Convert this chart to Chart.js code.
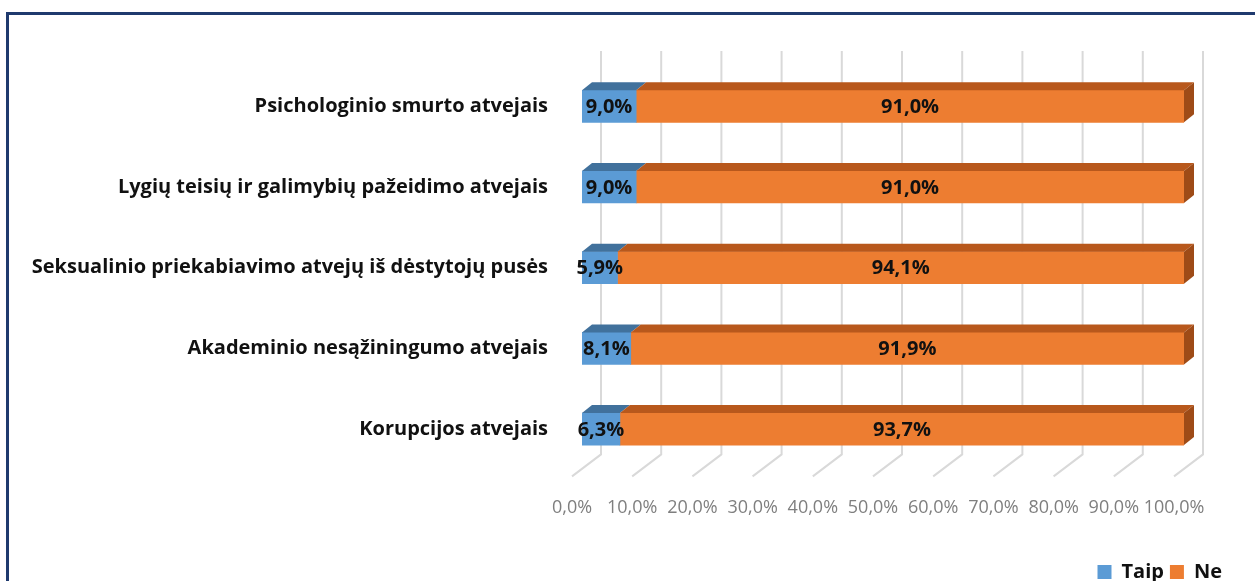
<!DOCTYPE html>
<html>
<head>
<meta charset="utf-8">
<script src="https://cdn.jsdelivr.net/npm/chart.js@4"></script>
<style>
  html, body { margin: 0; padding: 0; background: #fff; overflow: hidden; }
  #wrap { position: relative; width: 1255px; height: 581px; overflow: hidden; }
  #frame { position: absolute; left: 6px; top: 12px; width: 1400px; height: 700px; border: 3px solid #1f3a6e; box-sizing: border-box; }
  canvas { position: absolute; left: 0; top: 0; }
</style>
</head>
<body>
<div id="wrap">
  <div id="frame"></div>
  <canvas id="chart" width="1255" height="592"></canvas>
</div>
<script>
const categories = [
    'Psichologinio smurto atvejais',
    'Lygių teisių ir galimybių pažeidimo atvejais',
    'Seksualinio priekabiavimo atvejų iš dėstytojų pusės',
    'Akademinio nesąžiningumo atvejais',
    'Korupcijos atvejais'
];
const taipValues = [9.0, 9.0, 5.9, 8.1, 6.3];
const neValues = [91.0, 91.0, 94.1, 91.9, 93.7];
const seriesNames = ['Taip', 'Ne'];

// 3D look: bar depth and back wall offset (px)
const BAR_DX = 10, BAR_DY = 8;
const WALL_DX = 19, WALL_DY = 15;
const FLOOR_DX = -10, FLOOR_DY = 7;

function pct(v) {
    return v.toFixed(1).replace('.', ',') + '%';
}

const threeD = {
    id: 'threeD',
    beforeDatasetsDraw(chart) {
        // grid lines on the back wall and the floor
        const ctx = chart.ctx;
        const xs = chart.scales.x;
        const area = chart.chartArea;
        ctx.save();
        ctx.strokeStyle = '#d9d9d9';
        ctx.lineWidth = 2;
        xs.ticks.forEach(t => {
            const px = xs.getPixelForValue(t.value);
            ctx.beginPath();
            ctx.moveTo(px + WALL_DX, area.top - WALL_DY);
            ctx.lineTo(px + WALL_DX, area.bottom - WALL_DY);
            ctx.lineTo(px + FLOOR_DX, area.bottom + FLOOR_DY);
            ctx.stroke();
        });
        ctx.restore();
    },
    afterDatasetsDraw(chart) {
        const ctx = chart.ctx;
        const n = chart.data.datasets.length;
        ctx.save();
        chart.data.datasets.forEach((ds, di) => {
            const meta = chart.getDatasetMeta(di);
            meta.data.forEach((el, i) => {
                const p = el.getProps(['x', 'y', 'base', 'height'], true);
                const left = Math.min(p.x, p.base);
                const right = Math.max(p.x, p.base);
                const top = p.y - p.height / 2;
                const bottom = p.y + p.height / 2;
                // top face
                ctx.fillStyle = ds.topColor;
                ctx.beginPath();
                ctx.moveTo(left, top);
                ctx.lineTo(right, top);
                ctx.lineTo(right + BAR_DX, top - BAR_DY);
                ctx.lineTo(left + BAR_DX, top - BAR_DY);
                ctx.closePath();
                ctx.fill();
                // side face on the end of the stack
                if (di === n - 1) {
                    ctx.fillStyle = ds.sideColor;
                    ctx.beginPath();
                    ctx.moveTo(right, top);
                    ctx.lineTo(right + BAR_DX, top - BAR_DY);
                    ctx.lineTo(right + BAR_DX, bottom - BAR_DY);
                    ctx.lineTo(right, bottom);
                    ctx.closePath();
                    ctx.fill();
                }
                // value label
                ctx.fillStyle = '#111';
                ctx.font = 'bold 20px "Open Sans"';
                ctx.textAlign = 'center';
                ctx.textBaseline = 'middle';
                ctx.fillText(pct(ds.data[i]), (left + right) / 2, p.y + 1);
            });
        });
        ctx.restore();
    }
};

new Chart(document.getElementById('chart'), {
    type: 'bar',
    data: {
        labels: categories,
        datasets: [{
            label: seriesNames[0],
            data: taipValues,
            backgroundColor: '#5b9bd5',
            topColor: '#41719c',
            sideColor: '#3e6f9c',
            barThickness: 32
        }, {
            label: seriesNames[1],
            data: neValues,
            backgroundColor: '#ed7d31',
            topColor: '#b8581c',
            sideColor: '#9e4b17',
            barThickness: 32
        }]
    },
    options: {
        indexAxis: 'y',
        responsive: false,
        animation: false,
        layout: {
            padding: { left: 0, right: 27, top: 66, bottom: 0 }
        },
        scales: {
            x: {
                stacked: true,
                min: 0,
                max: 100,
                grid: { display: false, drawTicks: false },
                border: { display: false },
                afterFit(s) { s.height += 9; },
                ticks: {
                    stepSize: 10,
                    autoSkip: false,
                    maxRotation: 0,
                    padding: 28,
                    labelOffset: -10,
                    color: '#7f7f7f',
                    font: { family: '"Open Sans"', size: 18 },
                    callback: v => pct(v)
                }
            },
            y: {
                stacked: true,
                grid: { display: false, drawTicks: false },
                border: { display: false },
                afterFit(s) { s.width = 582; },
                ticks: {
                    padding: 34,
                    color: '#111',
                    font: { family: '"Open Sans"', size: 20, weight: 'bold' }
                }
            },
            // empty right-hand axis, keeps room for the 3D depth
            yRight: {
                type: 'category',
                position: 'right',
                grid: { display: false, drawTicks: false },
                border: { display: false },
                ticks: { display: false },
                afterFit(s) { s.width = 44; }
            }
        },
        plugins: {
            tooltip: { enabled: false },
            legend: {
                position: 'bottom',
                align: 'end',
                labels: {
                    boxWidth: 14,
                    boxHeight: 14,
                    padding: 6,
                    color: '#111',
                    font: { family: '"Open Sans"', size: 20, weight: 'bold' }
                }
            }
        }
    },
    plugins: [threeD]
});
</script>
</body>
</html>
